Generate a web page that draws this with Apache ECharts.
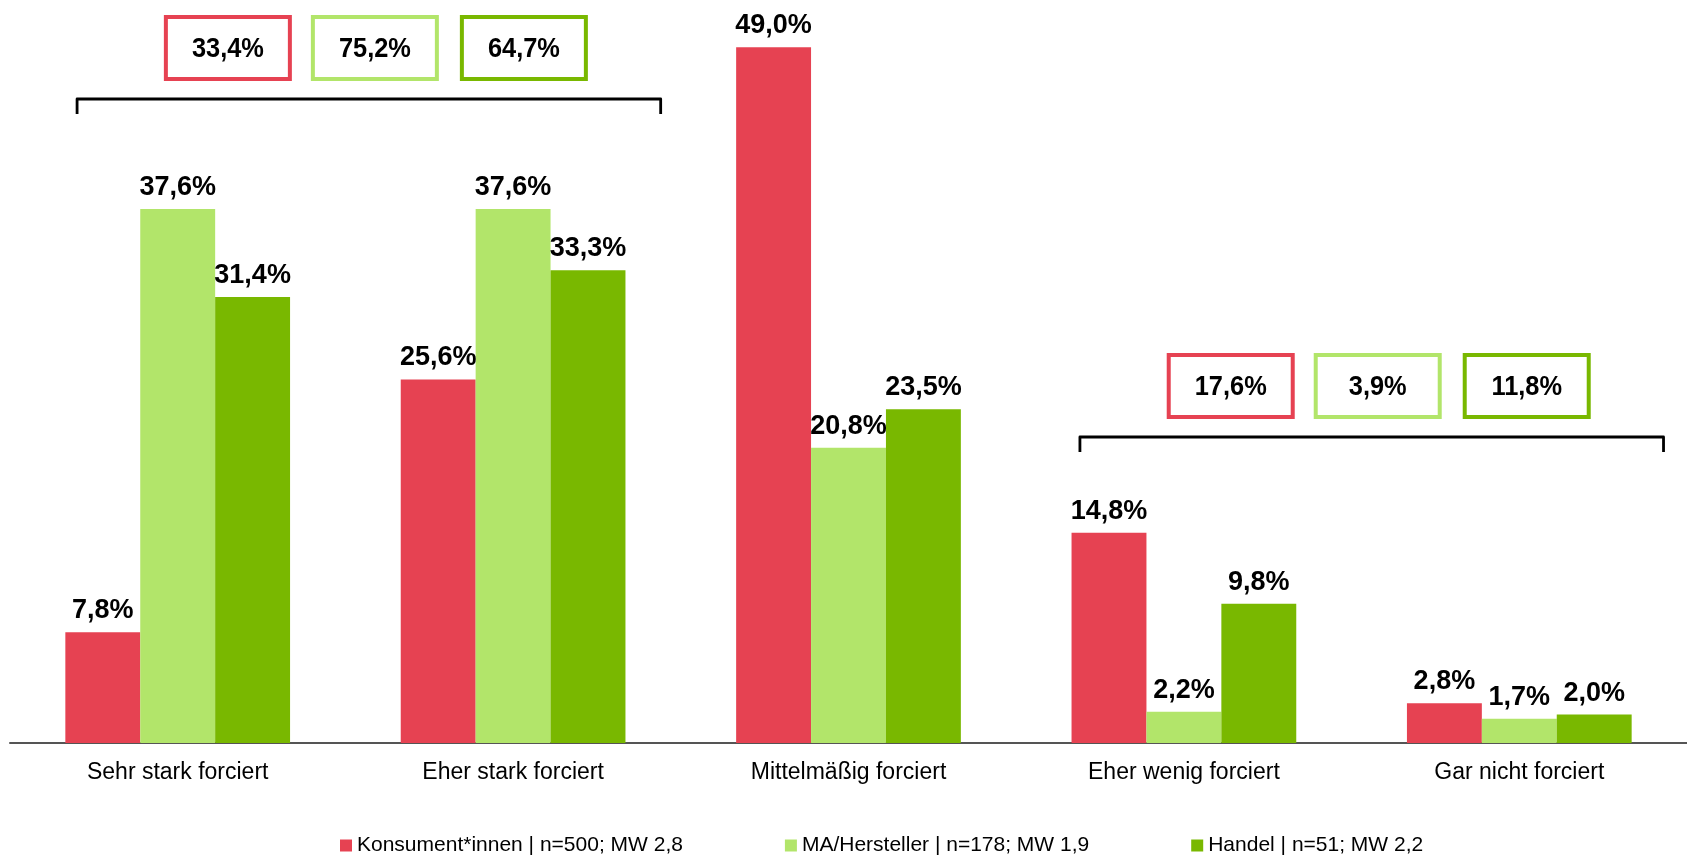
<!DOCTYPE html>
<html>
<head>
<meta charset="utf-8">
<script src="https://cdn.jsdelivr.net/npm/echarts@6/dist/echarts.min.js"></script>
<style>
html,body{margin:0;padding:0;background:#fff;}
#chart{width:1687px;height:856px;}
</style>
</head>
<body>
<div id="chart"></div>
<script>
const categories = ['Sehr stark forciert','Eher stark forciert','Mittelmäßig forciert','Eher wenig forciert','Gar nicht forciert'];
const seriesNames = ['Konsument*innen | n=500; MW 2,8','MA/Hersteller | n=178; MW 1,9','Handel | n=51; MW 2,2'];
const konsument = [7.8, 25.6, 49.0, 14.8, 2.8];
const hersteller = [37.6, 37.6, 20.8, 2.2, 1.7];
const handel = [31.4, 33.3, 23.5, 9.8, 2.0];
const colors = ['#E64252', '#B2E56A', '#79B800'];
const topBoxes = ['33,4%', '75,2%', '64,7%'];
const bottomBoxes = ['17,6%', '3,9%', '11,8%'];

const fontMain = 'Liberation Sans, Arial, sans-serif';
const fmt = v => v.toFixed(1).replace('.', ',') + '%';

const chart = echarts.init(document.getElementById('chart'));

function mkSeries(name, data, color) {
  return {
    name: name, type: 'bar', data: data,
    barGap: '0%', barCategoryGap: '33%',
    itemStyle: {color: color},
    label: {
      show: true, position: 'top', distance: 8,
      formatter: p => fmt(p.value),
      color: '#000', fontWeight: 'bold', fontSize: 27, fontFamily: fontMain
    }
  };
}

chart.setOption({
  animation: false,
  grid: {left: 10, right: 0, top: 33, bottom: 113, containLabel: false},
  xAxis: {
    type: 'category', data: categories,
    axisLine: {lineStyle: {color: '#555', width: 2}},
    axisTick: {show: false},
    axisLabel: {color: '#000', fontSize: 23, fontFamily: fontMain, margin: 18}
  },
  yAxis: {type: 'value', min: 0, max: 50, show: false, splitLine: {show: false}},
  legend: {
    left: 335, top: 830, itemGap: 102, itemWidth: 12, itemHeight: 12,
    icon: 'rect',
    textStyle: {color: '#000', fontSize: 21, fontFamily: fontMain},
    data: seriesNames
  },
  series: [
    mkSeries(seriesNames[0], konsument, colors[0]),
    mkSeries(seriesNames[1], hersteller, colors[1]),
    mkSeries(seriesNames[2], handel, colors[2])
  ]
});

// annotation brackets and summary boxes anchored to category positions
const cx = i => chart.convertToPixel({xAxisIndex: 0}, i);
const band = cx(1) - cx(0);
const boxOffsets = [-141, 6, 155];

function group(x1, x2, yTop, labels) {
  const els = [];
  els.push({
    type: 'polyline', silent: true,
    shape: {points: [[x1, yTop + 15], [x1, yTop], [x2, yTop], [x2, yTop + 15]]},
    style: {stroke: '#000', lineWidth: 2.8, fill: null, lineJoin: 'round'}
  });
  const mid = (x1 + x2) / 2;
  labels.forEach((t, i) => {
    const c = mid + boxOffsets[i];
    const yc = yTop - 51;
    els.push({
      type: 'rect', silent: true,
      shape: {x: c - 62, y: yc - 31, width: 124, height: 62},
      style: {stroke: colors[i], lineWidth: 4, fill: '#fff'}
    });
    els.push({
      type: 'text', silent: true, x: c, y: yc + 2, scaleX: 0.94,
      style: {text: t, fill: '#000', font: 'bold 27px ' + fontMain, align: 'center', verticalAlign: 'middle'}
    });
  });
  return els;
}

const c0 = cx(0), c1 = cx(1), c3 = cx(3), c4 = cx(4);
const els = [].concat(
  group(c0 - 0.30 * band, c1 + 0.44 * band, 99, topBoxes),
  group(c3 - 0.31 * band, c4 + 0.43 * band, 437, bottomBoxes)
);
chart.setOption({graphic: els});
</script>
</body>
</html>
